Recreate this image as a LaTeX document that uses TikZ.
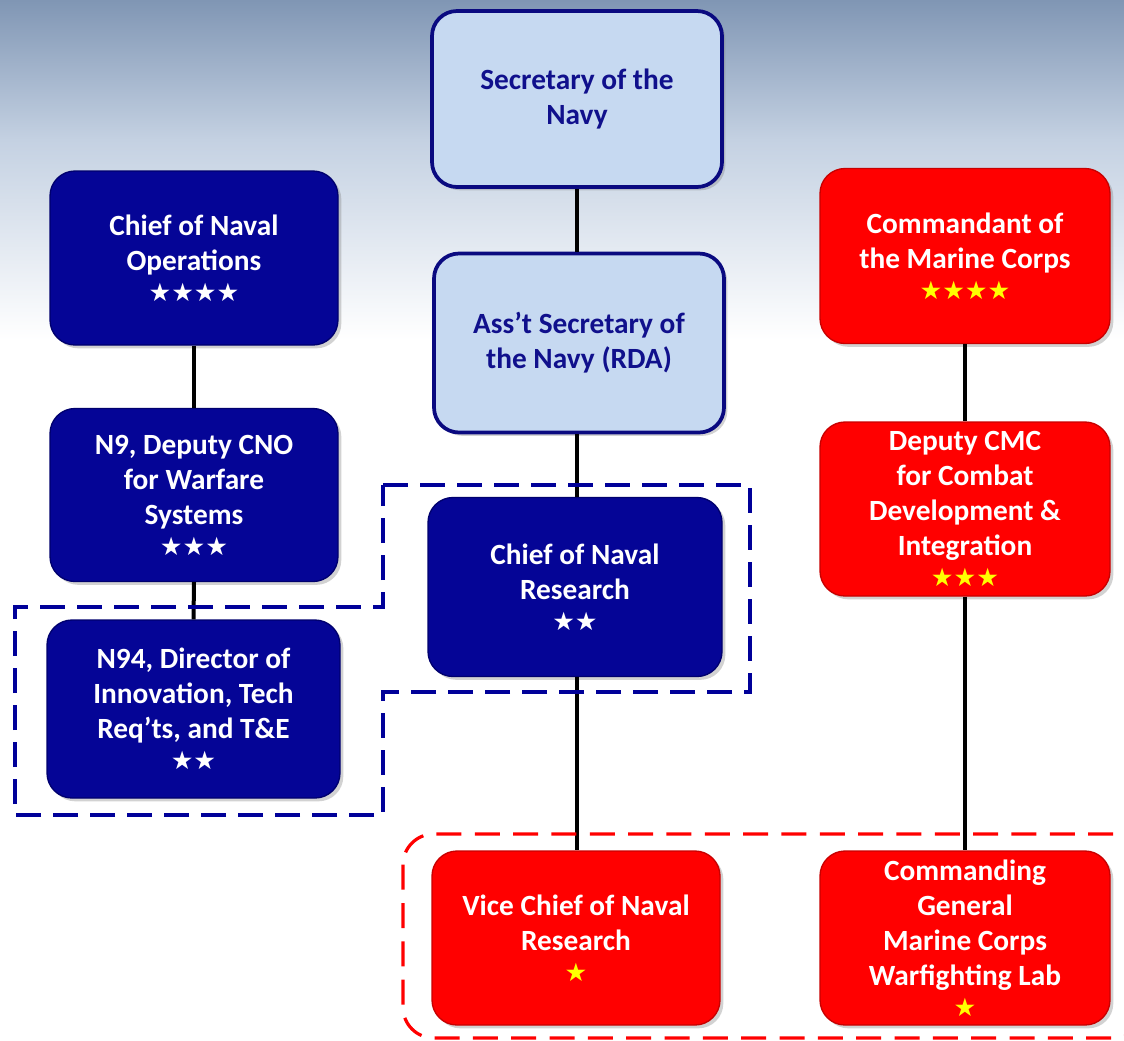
\documentclass[tikz,border=0pt]{standalone}
\usepackage{fontspec}
\setmainfont{Carlito}
\newfontfamily\symfont{DejaVu Sans}
\usetikzlibrary{shadows}
\definecolor{navyfill}{RGB}{5,5,150}
\definecolor{navyedge}{RGB}{0,0,110}
\definecolor{lightfill}{RGB}{198,217,241}
\definecolor{lightedge}{RGB}{10,10,128}
\definecolor{lighttext}{RGB}{16,16,140}
\definecolor{redfill}{RGB}{255,0,0}
\definecolor{rededge}{RGB}{200,0,0}
\definecolor{dashblue}{RGB}{0,0,153}
\definecolor{skytop}{RGB}{128,150,180}
\definecolor{skymid}{RGB}{196,209,226}
\definecolor{staryellow}{RGB}{255,255,0}
\newcommand{\stars}[1]{{\symfont\fontsize{19pt}{22pt}\selectfont #1}}
\tikzset{
  orgbox/.style={rounded corners=18.75pt, inner sep=0pt, align=center,
    font=\fontsize{22pt}{26.25pt}\selectfont\bfseries,
    drop shadow={opacity=0.35, shadow xshift=2.5pt, shadow yshift=-2.5pt}},
  navybox/.style={orgbox, fill=navyfill, draw=navyedge, line width=1pt, text=white},
  lightbox/.style={orgbox, fill=lightfill, draw=lightedge, line width=2.8pt, text=lighttext},
  redbox/.style={orgbox, fill=redfill, draw=rededge, line width=1pt, text=white},
  link/.style={line width=3pt, black},
  bluedash/.style={dashblue, line width=2.4pt, dash pattern=on 18.75pt off 9pt},
  reddash/.style={red, line width=2.4pt, dash pattern=on 18.75pt off 10pt, rounded corners=23pt}
}
\begin{document}
\begin{tikzpicture}[x=0.75pt,y=-0.75pt]
\useasboundingbox (0,0) rectangle (1124,1040);
\fill[white] (0,0) rectangle (1124,1040);
\shade[top color=skytop, bottom color=skymid] (0,0) rectangle (1124,140);
\shade[top color=skymid, bottom color=white] (0,139.5) rectangle (1124,340);

% boxes
\node[lightbox, minimum width=290*0.75pt, minimum height=176*0.75pt] (secnav) at (577,99)
  {Secretary of the\\Navy};
\node[lightbox, minimum width=290*0.75pt, minimum height=179*0.75pt] (asn) at (579,343)
  {Ass’t Secretary of\\the Navy (RDA)};
\node[navybox, minimum width=294*0.75pt, minimum height=179*0.75pt] (cnr) at (575,587)
  {Chief of Naval\\Research\\[-3pt]\stars{★★}};
\node[redbox, minimum width=288*0.75pt, minimum height=174*0.75pt] (vcnr) at (576,938)
  {Vice Chief of Naval\\Research\\[-3pt]\stars{\textcolor{staryellow}{★}}};
\node[navybox, minimum width=288*0.75pt, minimum height=174*0.75pt] (cno) at (194,258)
  {Chief of Naval\\Operations\\[-3pt]\stars{★★★★}};
\node[navybox, minimum width=288*0.75pt, minimum height=173*0.75pt] (n9) at (194,495)
  {N9, Deputy CNO\\for Warfare\\Systems\\[-3pt]\stars{★★★}};
\node[navybox, minimum width=293*0.75pt, minimum height=178*0.75pt] (n94) at (193.5,709)
  {N94, Director of\\Innovation, Tech\\Req’ts, and T\&E\\[-3pt]\stars{★★}};
\node[redbox, minimum width=290*0.75pt, minimum height=175*0.75pt] (cmc) at (965,256)
  {Commandant of\\the Marine Corps\\[-3pt]\stars{\textcolor{staryellow}{★★★★}}};
\node[redbox, minimum width=290*0.75pt, minimum height=174*0.75pt] (dcmc) at (965,509)
  {Deputy CMC\\for Combat\\Development \&\\Integration\\[-3pt]\stars{\textcolor{staryellow}{★★★}}};
\node[redbox, minimum width=290*0.75pt, minimum height=174*0.75pt] (cg) at (965,938)
  {Commanding\\General\\Marine Corps\\Warfighting Lab\\[-3pt]\stars{\textcolor{staryellow}{★}}};

% connectors
\draw[link] (secnav.south) -- (asn.north -| secnav.south);
\draw[link] (asn.south -| secnav.south) -- (cnr.north -| secnav.south);
\draw[link] (cnr.south -| secnav.south) -- (vcnr.north -| secnav.south);
\draw[link] (cno.south) -- (n9.north);
\draw[link] (n9.south) -- (n94.north);
\draw[link] (cmc.south) -- (dcmc.north);
\draw[link] (dcmc.south) -- (cg.north);

% dashed groupings
\draw[bluedash] (383,485) -- (750,485) -- (750,692) -- (383,692) -- (383,815)
  -- (15,815) -- (15,607) -- (383,607) -- cycle;
\begin{scope}
\clip (0,0) rectangle (1124,1040);
\draw[reddash] (403,834) rectangle (1145,1038);
\end{scope}
\end{tikzpicture}
\end{document}
